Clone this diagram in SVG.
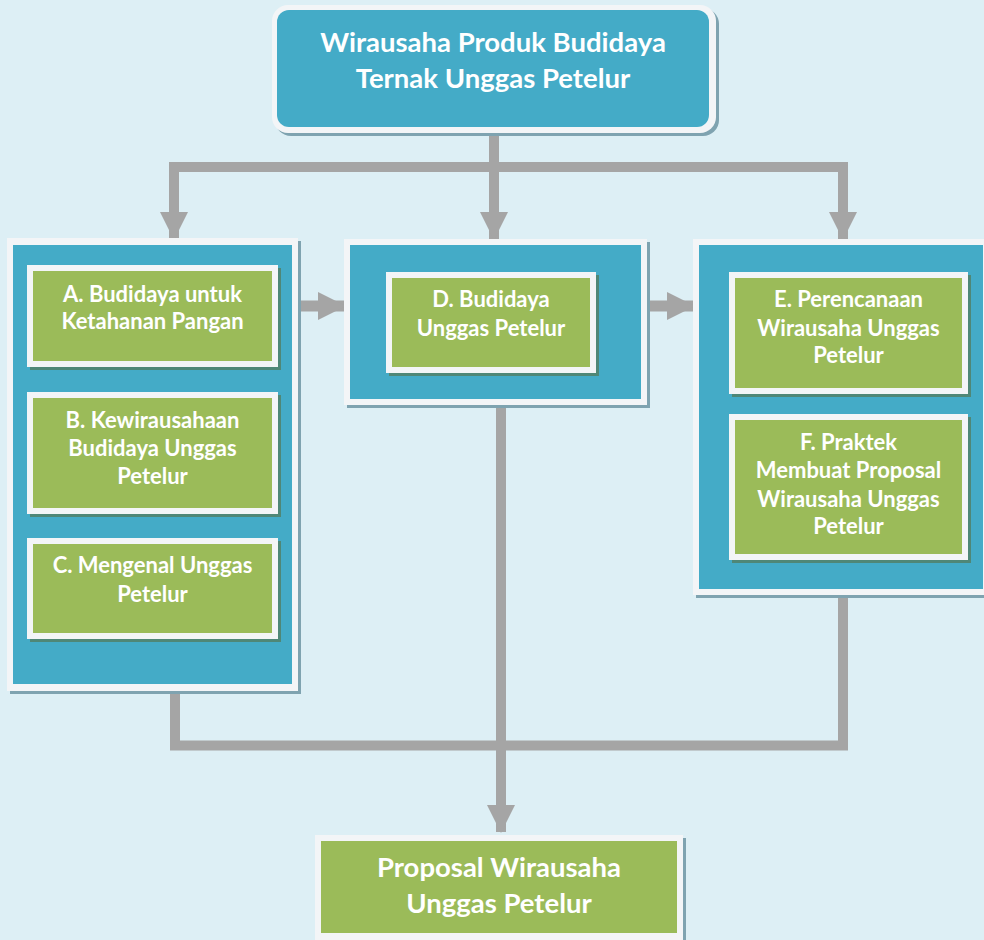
<svg xmlns="http://www.w3.org/2000/svg" width="984" height="940" viewBox="0 0 984 940">
  <style>
    .bg { fill: #ddeff5; }
    .frame { fill: #f3f5f7; }
    .panel { fill: #44abc7; }
    .pshadow { fill: #7fa3b0; }
    .leaf { fill: #9bbb59; }
    .lshadow { fill: #4f8777; }
    .wire { fill: none; stroke: #a5a5a5; stroke-width: 10; stroke-linejoin: miter; }
    text { font-family: Lato, "Open Sans", "Liberation Sans", sans-serif; font-weight: bold; fill: #ffffff; text-anchor: middle; }
    .t-big { font-size: 27.5px; }
    .t-box { font-size: 22px; }
  </style>
  <defs>
    <marker id="head" markerUnits="userSpaceOnUse" markerWidth="28" markerHeight="28" refX="27" refY="14" orient="auto">
      <path d="M0,0 L28,14 L0,28 Z" fill="#a5a5a5"/>
    </marker>
  </defs>

  <rect class="bg" x="0" y="0" width="984" height="940"/>

  <!-- connectors -->
  <g id="connectors">
    <path class="wire" d="M494,130 V239" marker-end="url(#head)"/>
    <path class="wire" d="M494,167 H174 V239" marker-end="url(#head)"/>
    <path class="wire" d="M494,167 H843 V239" marker-end="url(#head)"/>
    <path class="wire" style="stroke-width:11" d="M295,306 H345" marker-end="url(#head)"/>
    <path class="wire" style="stroke-width:11" d="M644,306 H694" marker-end="url(#head)"/>
    <path class="wire" d="M175,688 V745.5 H843 V595"/>
    <path class="wire" d="M501,402 V832" marker-end="url(#head)"/>
  </g>

  <!-- title -->
  <g id="title">
    <rect x="275" y="8" width="444" height="128" rx="16" fill="#7fa3b0"/>
    <rect class="frame" x="272" y="5" width="444" height="128" rx="16"/>
    <rect class="panel" x="277" y="10" width="432" height="117" rx="12"/>
    <text class="t-big" x="493" y="52">Wirausaha Produk Budidaya</text>
    <text class="t-big" x="493" y="88">Ternak Unggas Petelur</text>
  </g>

  <!-- left group -->
  <g id="group-left">
    <rect class="pshadow" x="10" y="241" width="291" height="453"/>
    <rect class="frame" x="7" y="238" width="291" height="453"/>
    <rect class="panel" x="13" y="245" width="279" height="439"/>
  </g>
  <g id="node-a">
    <rect class="lshadow" x="30" y="268" width="251" height="102"/>
    <rect class="frame" x="27" y="265" width="251" height="102"/>
    <rect class="leaf" x="33" y="271" width="239" height="90"/>
    <text class="t-box" x="152.5" y="302">A. Budidaya untuk</text>
    <text class="t-box" x="152.5" y="329">Ketahanan Pangan</text>
  </g>
  <g id="node-b">
    <rect class="lshadow" x="30" y="395" width="251" height="122"/>
    <rect class="frame" x="27" y="392" width="251" height="122"/>
    <rect class="leaf" x="33" y="398" width="239" height="110"/>
    <text class="t-box" x="152.5" y="428">B. Kewirausahaan</text>
    <text class="t-box" x="152.5" y="456">Budidaya Unggas</text>
    <text class="t-box" x="152.5" y="484">Petelur</text>
  </g>
  <g id="node-c">
    <rect class="lshadow" x="30" y="541" width="251" height="101"/>
    <rect class="frame" x="27" y="538" width="251" height="101"/>
    <rect class="leaf" x="33" y="544" width="239" height="89"/>
    <text class="t-box" x="152.5" y="573">C. Mengenal Unggas</text>
    <text class="t-box" x="152.5" y="602">Petelur</text>
  </g>

  <!-- middle group -->
  <g id="group-middle">
    <rect class="pshadow" x="347" y="242" width="303" height="166"/>
    <rect class="frame" x="344" y="239" width="303" height="166"/>
    <rect class="panel" x="350" y="245" width="291" height="154"/>
  </g>
  <g id="node-d">
    <rect class="lshadow" x="389" y="275" width="210" height="101"/>
    <rect class="frame" x="386" y="272" width="210" height="101"/>
    <rect class="leaf" x="392" y="278" width="198" height="89"/>
    <text class="t-box" x="491" y="307">D. Budidaya</text>
    <text class="t-box" x="491" y="336">Unggas Petelur</text>
  </g>

  <!-- right group -->
  <g id="group-right">
    <rect class="pshadow" x="696" y="242" width="300" height="356"/>
    <rect class="frame" x="693" y="239" width="300" height="356"/>
    <rect class="panel" x="699" y="245" width="284" height="344"/>
  </g>
  <g id="node-e">
    <rect class="lshadow" x="732" y="275" width="239" height="122"/>
    <rect class="frame" x="729" y="272" width="239" height="122"/>
    <rect class="leaf" x="735" y="278" width="227" height="110"/>
    <text class="t-box" x="848.5" y="307">E. Perencanaan</text>
    <text class="t-box" x="848.5" y="336">Wirausaha Unggas</text>
    <text class="t-box" x="848.5" y="363">Petelur</text>
  </g>
  <g id="node-f">
    <rect class="lshadow" x="732" y="417" width="239" height="146"/>
    <rect class="frame" x="729" y="414" width="239" height="146"/>
    <rect class="leaf" x="735" y="420" width="227" height="134"/>
    <text class="t-box" x="848.5" y="450">F. Praktek</text>
    <text class="t-box" x="848.5" y="478">Membuat Proposal</text>
    <text class="t-box" x="848.5" y="507">Wirausaha Unggas</text>
    <text class="t-box" x="848.5" y="534">Petelur</text>
  </g>

  <!-- result -->
  <g id="node-proposal">
    <rect x="318" y="838" width="368" height="106" fill="#7fa3b0"/>
    <rect class="frame" x="315" y="835" width="368" height="106"/>
    <rect class="leaf" x="321" y="841" width="356" height="92"/>
    <text class="t-big" x="499" y="877">Proposal Wirausaha</text>
    <text class="t-big" x="499" y="913">Unggas Petelur</text>
  </g>
</svg>
